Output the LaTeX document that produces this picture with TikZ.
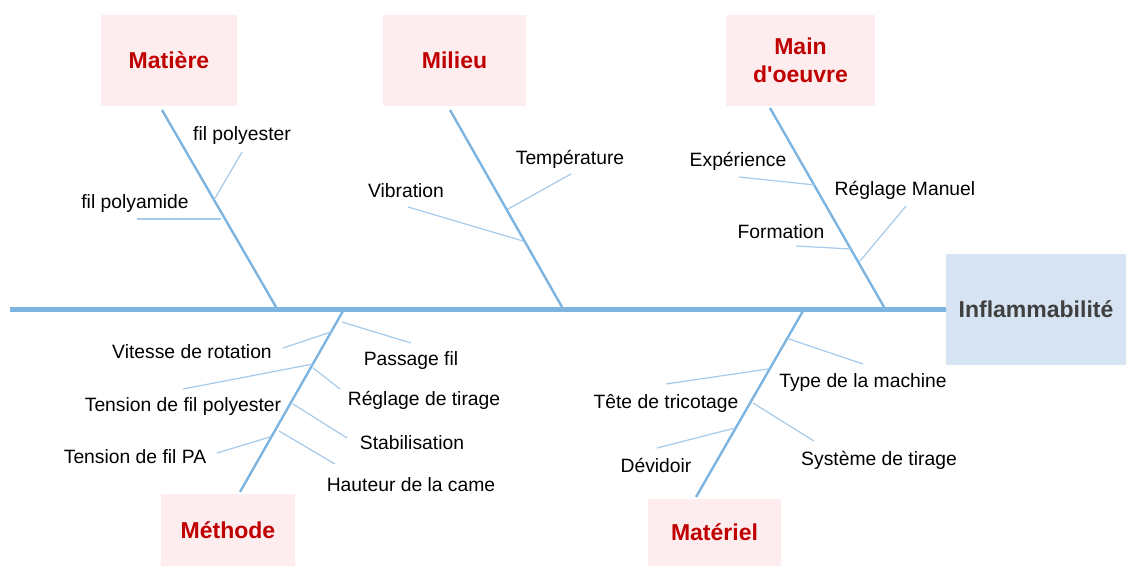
\documentclass[tikz,border=0pt]{standalone}
\usepackage{fontspec}
\setmainfont{Liberation Sans}[Ligatures=TeXOff]
\definecolor{spine}{HTML}{7DB4E0}
\definecolor{twigblue}{HTML}{A6CAEA}
\definecolor{causefill}{HTML}{FDEDEE}
\definecolor{effectfill}{HTML}{D5E3F3}
\definecolor{causetext}{HTML}{C00000}
\definecolor{effecttext}{HTML}{404040}

\begin{document}
\begin{tikzpicture}[x=1pt,y=-1pt,
    cause/.style={fill=causefill,text=causetext,align=center,inner sep=0pt,
        font=\fontsize{23}{28}\selectfont\bfseries},
    item/.style={inner sep=0pt,font=\fontsize{19.3}{22}\selectfont},
    bone/.style={spine,line width=2.4pt},
    twig/.style={twigblue,line width=1.2pt}]
\useasboundingbox (0,0) rectangle (1126,565);

% head and cause boxes
\node[fill=effectfill,text=effecttext,minimum width=180pt,minimum height=111pt,
      font=\fontsize{23}{26}\selectfont\bfseries] (effect) at (1036,309) {Inflammabilité};
\node[cause,minimum width=136pt,minimum height=91pt] (matiere) at (169,60.5) {Matière};
\node[cause,minimum width=143pt,minimum height=91pt] (milieu) at (454.5,60.5) {Milieu};
\node[cause,minimum width=149pt,minimum height=91pt] (mainoeuvre) at (800.5,60.5) {Main\\d'oeuvre};
\node[cause,minimum width=134pt,minimum height=72pt] (methode) at (228,530) {Méthode};
\node[cause,minimum width=133pt,minimum height=67pt] (materiel) at (714.5,532) {Matériel};

% spine
\coordinate (tail) at (10,309);
\draw[spine,line width=5pt] (tail) -- (effect.west);

% main bones
\coordinate (mat1) at (162,110);  \coordinate (mat2) at (276,307);
\coordinate (mil1) at (450,110);  \coordinate (mil2) at (562,307);
\coordinate (mo1) at (770,108);   \coordinate (mo2) at (884,307);
\coordinate (me1) at (343,311);   \coordinate (me2) at (240,492);
\coordinate (ma1) at (803,311);   \coordinate (ma2) at (696,497);
\draw[bone] (mat1) -- (mat2);
\draw[bone] (mil1) -- (mil2);
\draw[bone] (mo1) -- (mo2);
\draw[bone] (me1) -- (me2);
\draw[bone] (ma1) -- (ma2);

% Matiere
\node[item] (polyester) at (242,136) {fil polyester};
\node[item] (polyamide) at (135,204) {fil polyamide};
\coordinate (pe1) at (242,152); \coordinate (pe2) at (214,200);
\coordinate (pa1) at (137,219); \coordinate (pa2) at (221,219);
\draw[twig] (pe1) -- (pe2);
\draw[twig] (pa1) -- (pa2);

% Milieu
\node[item] (temperature) at (570,159) {Température};
\node[item] (vibration) at (406,191) {Vibration};
\coordinate (te1) at (571,174); \coordinate (te2) at (508,209);
\coordinate (vi1) at (408,207); \coordinate (vi2) at (523,241);
\draw[twig] (te1) -- (te2);
\draw[twig] (vi1) -- (vi2);

% Main d'oeuvre
\node[item] (experience) at (738,161) {Expérience};
\node[item] (reglman) at (905,190) {Réglage Manuel};
\node[item] (formation) at (781,232) {Formation};
\coordinate (ex1) at (739,177); \coordinate (ex2) at (815,185);
\coordinate (rm1) at (906,206); \coordinate (rm2) at (860,261);
\coordinate (fo1) at (796,246); \coordinate (fo2) at (851,249);
\draw[twig] (ex1) -- (ex2);
\draw[twig] (rm1) -- (rm2);
\draw[twig] (fo1) -- (fo2);

% Methode
\node[item] (vitesse) at (192,352) {Vitesse de rotation};
\node[item] (passage) at (411,361) {Passage fil};
\node[item] (tenspoly) at (183,407) {Tension de fil polyester};
\node[item] (regltir) at (424,400) {Réglage de tirage};
\node[item] (stabil) at (412,443) {Stabilisation};
\node[item] (tenspa) at (135,457) {Tension de fil PA};
\node[item] (hauteur) at (411,485) {Hauteur de la came};
\coordinate (vr1) at (283,348); \coordinate (vr2) at (331,332);
\coordinate (pf1) at (342,322); \coordinate (pf2) at (411,343);
\coordinate (tp1) at (183,389); \coordinate (tp2) at (313,364);
\coordinate (rt1) at (313,368); \coordinate (rt2) at (340,389);
\coordinate (st1) at (293,404); \coordinate (st2) at (347,438);
\coordinate (ta1) at (217,453); \coordinate (ta2) at (270,437);
\coordinate (hc1) at (279,431); \coordinate (hc2) at (335,464);
\draw[twig] (vr1) -- (vr2);
\draw[twig] (pf1) -- (pf2);
\draw[twig] (tp1) -- (tp2);
\draw[twig] (rt1) -- (rt2);
\draw[twig] (st1) -- (st2);
\draw[twig] (ta1) -- (ta2);
\draw[twig] (hc1) -- (hc2);

% Materiel
\node[item] (typemach) at (863,383) {Type de la machine};
\node[item] (tete) at (666,403) {Tête de tricotage};
\node[item] (systir) at (879,460) {Système de tirage};
\node[item] (devidoir) at (656,465) {Dévidoir};
\coordinate (tm1) at (789,339); \coordinate (tm2) at (863,364);
\coordinate (tt1) at (666,384); \coordinate (tt2) at (768,369);
\coordinate (sy1) at (753,403); \coordinate (sy2) at (814,441);
\coordinate (dv1) at (657,448); \coordinate (dv2) at (735,428);
\draw[twig] (tm1) -- (tm2);
\draw[twig] (tt1) -- (tt2);
\draw[twig] (sy1) -- (sy2);
\draw[twig] (dv1) -- (dv2);
\end{tikzpicture}
\end{document}
